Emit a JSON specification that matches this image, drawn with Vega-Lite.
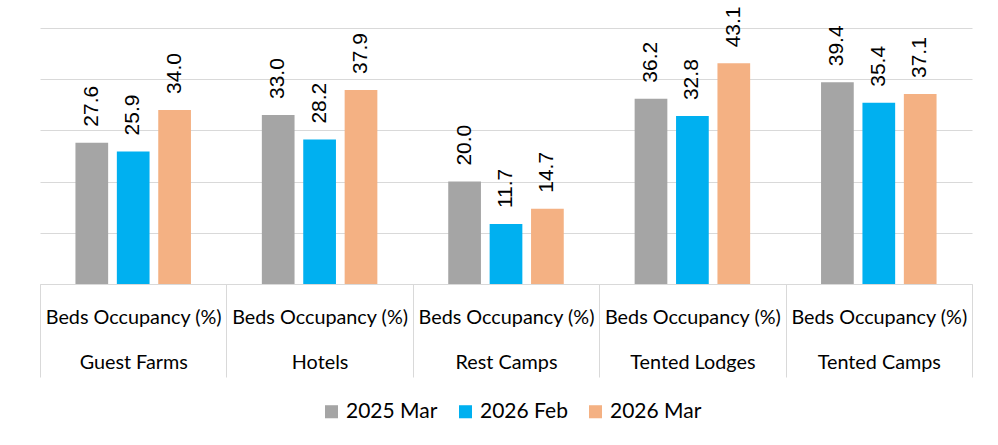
{
  "$schema": "https://vega.github.io/schema/vega-lite/v6.json",
  "width": 932,
  "height": 256,
  "autosize": {"type": "none"},
  "padding": {"left": 40, "top": 28, "right": 26, "bottom": 161},
  "background": "white",
  "config": {"view": {"stroke": null}},
  "data": {
    "values": [
      {"type": "Guest Farms", "period": "2025 Mar", "value": 27.6},
      {"type": "Guest Farms", "period": "2026 Feb", "value": 25.9},
      {"type": "Guest Farms", "period": "2026 Mar", "value": 34.0},
      {"type": "Hotels", "period": "2025 Mar", "value": 33.0},
      {"type": "Hotels", "period": "2026 Feb", "value": 28.2},
      {"type": "Hotels", "period": "2026 Mar", "value": 37.9},
      {"type": "Rest Camps", "period": "2025 Mar", "value": 20.0},
      {"type": "Rest Camps", "period": "2026 Feb", "value": 11.7},
      {"type": "Rest Camps", "period": "2026 Mar", "value": 14.7},
      {"type": "Tented Lodges", "period": "2025 Mar", "value": 36.2},
      {"type": "Tented Lodges", "period": "2026 Feb", "value": 32.8},
      {"type": "Tented Lodges", "period": "2026 Mar", "value": 43.1},
      {"type": "Tented Camps", "period": "2025 Mar", "value": 39.4},
      {"type": "Tented Camps", "period": "2026 Feb", "value": 35.4},
      {"type": "Tented Camps", "period": "2026 Mar", "value": 37.1}
    ]
  },
  "encoding": {
    "x": {
      "field": "type",
      "type": "nominal",
      "sort": ["Guest Farms", "Hotels", "Rest Camps", "Tented Lodges", "Tented Camps"],
      "scale": {"paddingInner": 0, "paddingOuter": 0},
      "axis": {
        "title": null,
        "tickBand": "extent",
        "tickSize": 93,
        "tickColor": "#d9d9d9",
        "domainColor": "#d9d9d9",
        "labelAngle": 0,
        "labelExpr": "datum.label ? ['Beds Occupancy (%)', datum.label] : ''",
        "labelFont": "Lato",
        "labelFontSize": 19.8,
        "labelLineHeight": 45,
        "labelBaseline": "middle",
        "labelPadding": -60,
        "labelColor": "#000000"
      }
    },
    "xOffset": {
      "field": "period",
      "type": "nominal",
      "scale": {"paddingInner": 0.21, "paddingOuter": 0.856}
    },
    "y": {
      "field": "value",
      "type": "quantitative",
      "scale": {"domain": [0, 50], "nice": false},
      "axis": {
        "title": null,
        "values": [0, 10, 20, 30, 40, 50],
        "labels": false,
        "ticks": false,
        "domain": false,
        "grid": true,
        "gridColor": "#d9d9d9"
      }
    }
  },
  "layer": [
    {
      "mark": {"type": "bar"},
      "encoding": {
        "color": {
          "field": "period",
          "type": "nominal",
          "scale": {"domain": ["2025 Mar", "2026 Feb", "2026 Mar"], "range": ["#A5A5A5", "#00B0F0", "#F4B183"]},
          "legend": {
            "title": null,
            "orient": "none",
            "legendX": 281,
            "legendY": 373,
            "direction": "horizontal",
            "symbolType": "square",
            "symbolSize": 170,
            "symbolStrokeWidth": 0,
            "labelFont": "Lato",
            "labelFontSize": 21,
            "labelColor": "#000000",
            "labelOffset": 4,
            "columnPadding": 17
          }
        }
      }
    },
    {
      "mark": {"type": "text", "angle": -90, "align": "left", "baseline": "middle", "dx": 16, "font": "Liberation Sans", "fontSize": 21, "color": "#000000"},
      "encoding": {
        "text": {"field": "value", "type": "quantitative", "format": ".1f"}
      }
    }
  ]
}
